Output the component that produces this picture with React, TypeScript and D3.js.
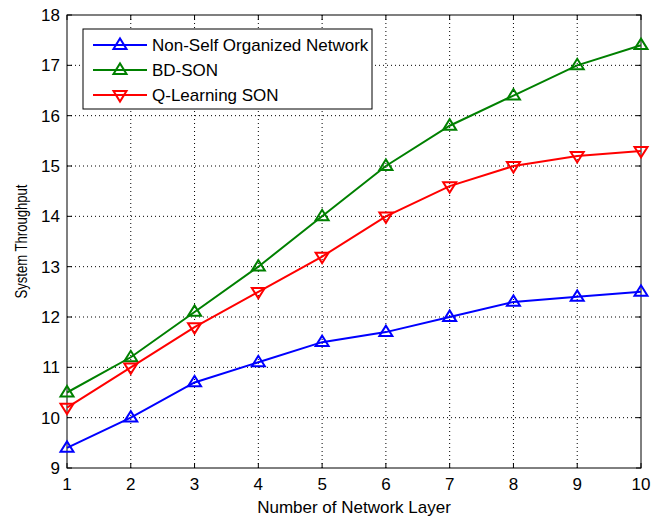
import React from 'react';
import * as d3 from 'd3';

const layers = [1, 2, 3, 4, 5, 6, 7, 8, 9, 10];
const nonSon = [9.4, 10.0, 10.7, 11.1, 11.5, 11.7, 12.0, 12.3, 12.4, 12.5];
const bdSon = [10.5, 11.2, 12.1, 13.0, 14.0, 15.0, 15.8, 16.4, 17.0, 17.4];
const qSon = [10.2, 11.0, 11.8, 12.5, 13.2, 14.0, 14.6, 15.0, 15.2, 15.3];
const yTicks = [9, 10, 11, 12, 13, 14, 15, 16, 17, 18];

const seriesNames = ['Non-Self Organized Network', 'BD-SON', 'Q-Learning SON'];
const seriesColors = ['#0000ff', '#008000', '#ff0000'];
const seriesDown = [false, false, true];

const W = 663, H = 517;
const m = { left: 67, right: 22, top: 15, bottom: 49 };

function Tri({ x, y, down, color }: { x: number; y: number; down: boolean; color: string }) {
  const r = 6.5;
  const pts = down
    ? [[x - r, y - r * 0.6], [x + r, y - r * 0.6], [x, y + r]]
    : [[x - r, y + r * 0.6], [x + r, y + r * 0.6], [x, y - r]];
  return <polygon points={pts.map(p => p.join(',')).join(' ')} fill="none" stroke={color} strokeWidth={2} />;
}

export default function App() {
  const x = d3.scaleLinear().domain([1, 10]).range([m.left, W - m.right]);
  const y = d3.scaleLinear().domain([9, 18]).range([H - m.bottom, m.top]);
  const all = [nonSon, bdSon, qSon];
  const line = d3.line<number>().x((_, i) => x(layers[i])).y(d => y(d));
  const font = 'Liberation Sans, Arial, sans-serif';
  const x0 = x(1), x1 = x(10), y0 = y(9), y1 = y(18);

  return (
    <svg width={W} height={H} style={{ position: 'absolute', left: 0, top: 0 }} fontFamily={font}>
      <rect width={W} height={H} fill="#fff" />
      {/* grid */}
      {layers.slice(1, -1).map(v => (
        <line key={'gx' + v} x1={x(v)} x2={x(v)} y1={y0} y2={y1} stroke="#000" strokeWidth={1} strokeDasharray="1,3" />
      ))}
      {yTicks.slice(1, -1).map(v => (
        <line key={'gy' + v} x1={x0} x2={x1} y1={y(v)} y2={y(v)} stroke="#000" strokeWidth={1} strokeDasharray="1,3" />
      ))}
      {/* ticks inside */}
      {layers.map(v => (
        <g key={'tx' + v}>
          <line x1={x(v)} x2={x(v)} y1={y0} y2={y0 - 5} stroke="#000" />
          <line x1={x(v)} x2={x(v)} y1={y1} y2={y1 + 5} stroke="#000" />
          <text x={x(v)} y={y0 + 22} textAnchor="middle" fontSize={17}>{v}</text>
        </g>
      ))}
      {yTicks.map(v => (
        <g key={'ty' + v}>
          <line x1={x0} x2={x0 + 5} y1={y(v)} y2={y(v)} stroke="#000" />
          <line x1={x1} x2={x1 - 5} y1={y(v)} y2={y(v)} stroke="#000" />
          <text x={x0 - 7} y={y(v) + 6} textAnchor="end" fontSize={17}>{v}</text>
        </g>
      ))}
      <rect x={x0} y={y1} width={x1 - x0} height={y0 - y1} fill="none" stroke="#000" strokeWidth={1} />
      {/* series */}
      {all.map((s, k) => (
        <g key={'s' + k}>
          <path d={line(s) || ''} fill="none" stroke={seriesColors[k]} strokeWidth={2} />
          {s.map((v, i) => (
            <Tri key={i} x={x(layers[i])} y={y(v)} down={seriesDown[k]} color={seriesColors[k]} />
          ))}
        </g>
      ))}
      {/* legend */}
      <rect x={83} y={29} width={289} height={80} fill="#fff" stroke="#000" strokeWidth={1} />
      {seriesNames.map((n, k) => (
        <g key={'l' + k}>
          <line x1={93} x2={147} y1={45 + k * 25} y2={45 + k * 25} stroke={seriesColors[k]} strokeWidth={2} />
          <Tri x={120} y={45 + k * 25} down={seriesDown[k]} color={seriesColors[k]} />
          <text x={152} y={51 + k * 25} fontSize={17}>{n}</text>
        </g>
      ))}
      <text x={(x0 + x1) / 2} y={513} textAnchor="middle" fontSize={17}>Number of Network Layer</text>
      <text transform={`translate(27,${(y0 + y1) / 2}) rotate(-90)`} textAnchor="middle" fontSize={16}
        textLength={114} lengthAdjust="spacingAndGlyphs">System Throughput</text>
    </svg>
  );
}
